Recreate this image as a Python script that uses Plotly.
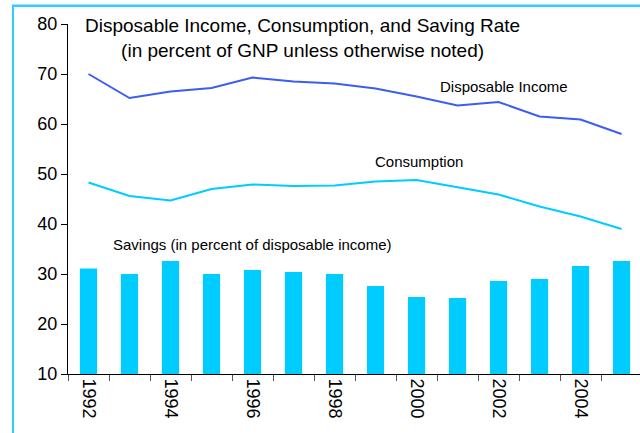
import plotly.graph_objects as go

years = [str(y) for y in range(1992, 2006)]
tick_labels = [y if int(y) % 2 == 0 else "" for y in years]
disposable_income = [70.0, 65.2, 66.5, 67.2, 69.3, 68.5, 68.1, 67.1, 65.5, 63.7, 64.4, 61.5, 60.9, 58.0]
consumption = [48.3, 45.6, 44.7, 47.0, 47.9, 47.6, 47.7, 48.5, 48.8, 47.3, 45.9, 43.5, 41.5, 39.0]
savings = [31.1, 30.0, 32.6, 30.0, 30.8, 30.4, 30.0, 27.6, 25.4, 25.2, 28.6, 29.0, 31.6, 32.6]

FONT = "Arial, Liberation Sans, sans-serif"
CYAN = "#00CCFF"
BLUE = "#3D5CF2"

fig = go.Figure()
fig.add_trace(go.Bar(x=years, y=savings, marker=dict(color=CYAN, line=dict(width=0)),
                     width=0.42, name="Savings"))
fig.add_trace(go.Scatter(x=years, y=disposable_income, mode="lines",
                         line=dict(color=BLUE, width=2), name="Disposable Income"))
fig.add_trace(go.Scatter(x=years, y=consumption, mode="lines",
                         line=dict(color=CYAN, width=2), name="Consumption"))

# plot area: x 68..640, y 24..374.3
W, H = 640, 433
L, R, T, B = 68, 0, 24, 59
pw, ph = W - L - R, H - T - B

def px(x):
    return (x - L) / pw

def py(y):
    return 1 - (y - T) / ph

fig.update_layout(
    width=W, height=H,
    margin=dict(l=L, r=R, t=T, b=B, pad=0, autoexpand=False),
    paper_bgcolor="white", plot_bgcolor="white",
    showlegend=False,
    font=dict(family=FONT, color="black"),
    xaxis=dict(type="category", range=[-0.5, 13.45], tickson="boundaries",
               tickvals=years, ticktext=tick_labels, tickangle=90,
               ticks="outside", ticklen=6, tickcolor="#555555",
               showline=True, linecolor="black", linewidth=1,
               showgrid=False, zeroline=False, automargin=False,
               tickfont=dict(size=18, family=FONT)),
    yaxis=dict(range=[10, 80], dtick=10, ticks="outside", ticklen=6,
               tickcolor="black", showline=True, linecolor="black", linewidth=1,
               showgrid=False, zeroline=False, automargin=False,
               tickfont=dict(size=18, family=FONT)),
    bargap=0.58,
)

annots = [
    ("Disposable Income, Consumption, and Saving Rate<br>(in percent of GNP unless otherwise noted)", 302, 38, 19),
    ("Disposable Income", 504, 87, 15),
    ("Consumption", 419, 161, 15),
    ("Savings (in percent of disposable income)", 252, 244, 15),
]
for text, x, y, size in annots:
    fig.add_annotation(text=text, xref="paper", yref="paper", x=px(x), y=py(y),
                       xanchor="center", yanchor="middle", showarrow=False,
                       font=dict(size=size, family=FONT, color="black"),
                       align="center")

# frame border: left edge line and top edge as a thin filled band
fig.add_shape(type="line", xref="paper", yref="paper",
              x0=px(13), x1=px(13), y0=py(440), y1=py(5),
              line=dict(color="#33CCFF", width=2))
fig.add_shape(type="rect", xref="paper", yref="paper",
              x0=px(12), x1=px(640), y0=py(7), y1=py(4.5),
              fillcolor="#33CCFF", line=dict(width=0), layer="above")

fig.write_html("out.html", config={"displayModeBar": False},
               post_script="document.body.style.margin='0';document.body.style.overflow='hidden';")
